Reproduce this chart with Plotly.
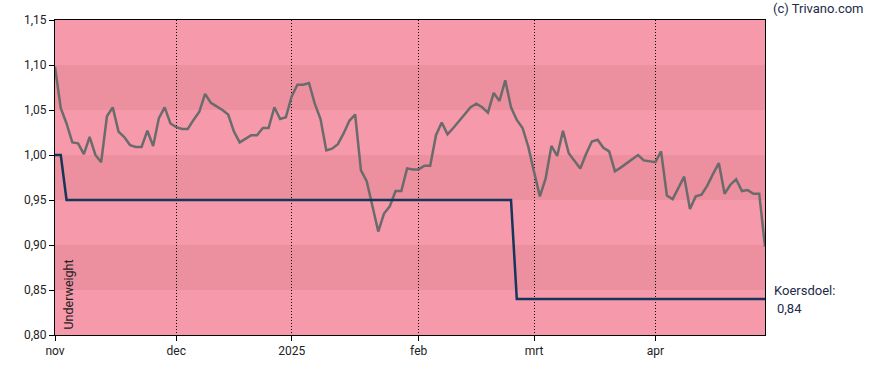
import pandas as pd
import plotly.graph_objects as go

# ---- data ----
holidays = ["2024-12-25", "2024-12-26", "2025-01-01", "2025-04-18", "2025-04-21"]
dates = [d.strftime("%Y-%m-%d") for d in pd.bdate_range("2024-11-01", "2025-04-30")
         if d.strftime("%Y-%m-%d") not in holidays]

price = [
    1.098, 1.052, 1.035, 1.014, 1.013, 1.001, 1.020, 1.000, 0.992, 1.043,
    1.053, 1.026, 1.020, 1.011, 1.009, 1.009, 1.027, 1.010, 1.041, 1.053,
    1.035, 1.031, 1.029, 1.029, 1.039, 1.048, 1.068, 1.058, 1.054, 1.050,
    1.045, 1.026, 1.014, 1.018, 1.022, 1.022, 1.030, 1.030, 1.053, 1.040,
    1.042, 1.065, 1.078, 1.078, 1.080, 1.057, 1.040, 1.005, 1.007, 1.012,
    1.024, 1.038, 1.045, 0.983, 0.971, 0.943, 0.915, 0.935, 0.943, 0.960,
    0.960, 0.985, 0.984, 0.984, 0.988, 0.988, 1.022, 1.036, 1.023, 1.030,
    1.038, 1.046, 1.053, 1.057, 1.053, 1.047, 1.069, 1.060, 1.083, 1.053,
    1.039, 1.030, 1.009, 0.981, 0.954, 0.974, 1.010, 0.999, 1.027, 1.002,
    0.993, 0.985, 1.001, 1.015, 1.017, 1.008, 1.004, 0.982, 0.986, 0.991,
    0.995, 1.000, 0.994, 0.993, 0.992, 1.004, 0.955, 0.951, 0.964, 0.976,
    0.940, 0.954, 0.956, 0.966, 0.979, 0.991, 0.957, 0.967, 0.973, 0.960,
    0.961, 0.957, 0.957, 0.898,
]

target_dates = ["2024-11-01", "2024-11-04", "2024-11-05", "2025-02-25", "2025-02-26", "2025-04-30"]
target_values = [1.00, 1.00, 0.95, 0.95, 0.84, 0.84]

month_tick_dates = ["2024-11-01", "2024-12-02", "2025-01-02", "2025-02-03", "2025-03-03", "2025-04-01"]
month_tick_labels = ["nov", "dec", "2025", "feb", "mrt", "apr"]

dark_bands = [(1.05, 1.10), (0.95, 1.00), (0.85, 0.90)]
y_range = [0.80, 1.15]
target_label = "Koersdoel:"
target_value_text = "0,84"
rating_text = "Underweight"
credit = "(c) Trivano.com"

# ---- figure ----
FONT = "Roboto"
LIGHT = "#F69AAB"
DARK = "#EC8F9F"

fig = go.Figure()
fig.add_trace(go.Scatter(x=dates, y=price, mode="lines",
                         line=dict(color="#6b6b6b", width=2.5), hoverinfo="skip"))
fig.add_trace(go.Scatter(x=target_dates, y=target_values, mode="lines",
                         line=dict(color="#14365a", width=2.5), hoverinfo="skip"))

shapes = []
for lo, hi in dark_bands:
    shapes.append(dict(type="rect", xref="paper", yref="y", x0=0, x1=1, y0=lo, y1=hi,
                       fillcolor=DARK, line=dict(width=0), layer="below"))

fig.update_layout(
    width=888, height=370,
    margin=dict(l=55, r=123, t=20, b=35, autoexpand=False),
    paper_bgcolor="white", plot_bgcolor=LIGHT,
    showlegend=False,
    separators=",.",
    font=dict(family=FONT, size=12, color="#222"),
    shapes=shapes,
    annotations=[
        dict(text=rating_text, textangle=-90, xref="paper", yref="paper", x=0, y=0,
             xanchor="left", yanchor="bottom", xshift=3, yshift=3, showarrow=False,
             font=dict(family=FONT, size=12.5, color="#222")),
        dict(text=target_label, xref="paper", yref="y", x=1, y=target_values[-1],
             xanchor="left", yanchor="middle", xshift=7, yshift=9, showarrow=False,
             font=dict(family=FONT, size=13, color="#1c2b4a")),
        dict(text=target_value_text, xref="paper", yref="y", x=1, y=target_values[-1],
             xanchor="left", yanchor="middle", xshift=10, yshift=-9, showarrow=False,
             font=dict(family=FONT, size=13, color="#1c2b4a")),
        dict(text=credit, xref="paper", yref="paper", x=1, y=1,
             xanchor="left", yanchor="middle", xshift=6, yshift=11.5, showarrow=False,
             font=dict(family=FONT, size=13, color="#1c2b4a")),
    ],
)

fig.update_xaxes(
    type="category", categoryorder="array", categoryarray=dates,
    range=[0, len(dates) - 1],
    tickmode="array", tickvals=month_tick_dates, ticktext=month_tick_labels,
    ticks="outside", ticklen=5, tickcolor="black",
    showgrid=True, gridcolor="black", griddash="1px,2px", gridwidth=1,
    showline=True, linecolor="black", linewidth=1, mirror=True,
    zeroline=False, fixedrange=True, automargin=False,
)
fig.update_yaxes(
    range=y_range, dtick=0.05, tick0=0.80, tickformat=".2f",
    ticks="outside", ticklen=5, tickcolor="black",
    showgrid=False, zeroline=False,
    showline=True, linecolor="black", linewidth=1, mirror=True,
    fixedrange=True, automargin=False,
)

fig.write_html("out.html", config={"displayModeBar": False, "staticPlot": True},
               post_script="document.body.style.margin='0';document.body.style.overflow='hidden';")
